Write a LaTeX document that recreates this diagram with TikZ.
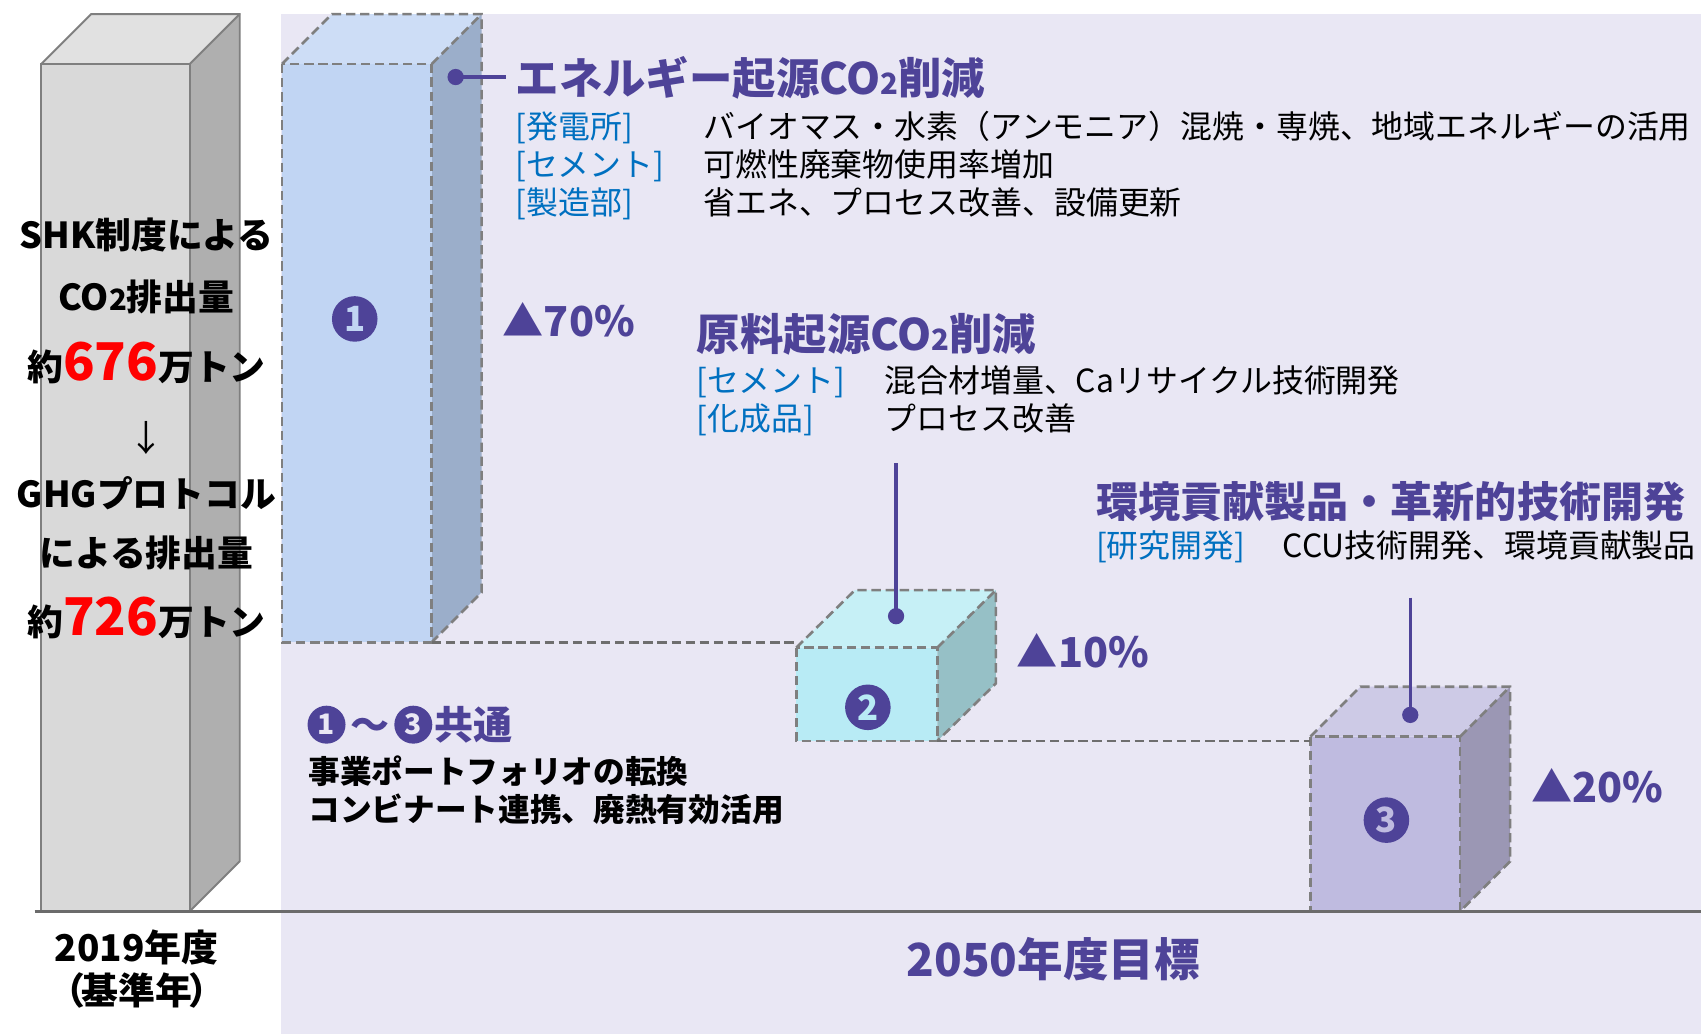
\documentclass[tikz,border=0pt]{standalone}
\usepackage{fontspec}
\setmainfont{Noto Sans CJK JP}
\definecolor{panel}{HTML}{E9E7F4}
\definecolor{pur}{HTML}{4E4398}
\definecolor{lblue}{HTML}{0070C0}
\definecolor{dashgray}{HTML}{7F7F7F}
\definecolor{stepgray}{HTML}{6E6E6E}
\definecolor{axisgray}{HTML}{6B6B6B}
\definecolor{gedge}{HTML}{7F7F7F}
\definecolor{gf}{HTML}{D9D9D9}
\definecolor{gt}{HTML}{E1E1E1}
\definecolor{gs}{HTML}{AFAFAF}
\definecolor{b1f}{HTML}{C1D5F3}
\definecolor{b1t}{HTML}{CDDDF6}
\definecolor{b1s}{HTML}{9BAECA}
\definecolor{b2f}{HTML}{B8EBF5}
\definecolor{b2t}{HTML}{C6F0F6}
\definecolor{b2s}{HTML}{96C0C6}
\definecolor{b3f}{HTML}{BFBBE0}
\definecolor{b3t}{HTML}{CDCAE6}
\definecolor{b3s}{HTML}{9B97B4}
\newcommand\mycube[8]{%
  \fill[#7t] (#1,#2) -- (#1+#5,#2-#6) -- (#3+#5,#2-#6) -- (#3,#2) -- cycle;
  \fill[#7s] (#3,#2) -- (#3+#5,#2-#6) -- (#3+#5,#4-#6) -- (#3,#4) -- cycle;
  \fill[#7f] (#1,#2) rectangle (#3,#4);
  \draw[#8] (#1,#2) rectangle (#3,#4);
  \draw[#8] (#1,#2) -- (#1+#5,#2-#6) -- (#3+#5,#2-#6) -- (#3+#5,#4-#6) -- (#3,#4);
  \draw[#8] (#3,#2) -- (#3+#5,#2-#6);
}
\begin{document}
\begin{tikzpicture}[x=0.5pt,y=-0.5pt,
  ttl/.style={inner sep=0pt,anchor=west,text=pur,font=\bfseries\fontsize{20}{20}\selectfont,text height=17.6pt,text depth=2.4pt},
  lbl/.style={inner sep=0pt,anchor=west,text=lblue,font=\fontsize{14.7}{14.7}\selectfont,text height=12.9pt,text depth=1.8pt},
  val/.style={lbl,text=black},
  lft/.style={inner sep=0pt,anchor=center,font=\bfseries\fontsize{16.5}{16.5}\selectfont,text height=14.5pt,text depth=2pt},
  big/.style={text=red,font=\bfseries\fontsize{24}{24}\selectfont},
  bot/.style={inner sep=0pt,anchor=center,font=\bfseries\fontsize{17}{17}\selectfont,text height=15pt,text depth=2pt},
  goal/.style={inner sep=0pt,anchor=center,text=pur,font=\bfseries\fontsize{21}{21}\selectfont,text height=18.5pt,text depth=2.5pt},
  pct/.style={inner sep=0pt,anchor=west,text=pur,font=\bfseries\fontsize{19}{19}\selectfont,text height=16.7pt,text depth=2.3pt},
  ctl/.style={inner sep=0pt,anchor=west,text=pur,font=\bfseries\fontsize{18}{18}\selectfont,text height=15.8pt,text depth=2.2pt},
  cline/.style={inner sep=0pt,anchor=west,font=\bfseries\fontsize{14.6}{14.6}\selectfont,text height=12.8pt,text depth=1.8pt},
  numc/.style={circle,fill=pur,inner sep=0pt,minimum size=21pt,font=\bfseries\fontsize{16}{16}\selectfont},
  smallnum/.style={numc,minimum size=17.5pt,font=\bfseries\fontsize{13}{13}\selectfont,text=panel},
  dot/.style={circle,fill=pur,inner sep=0pt,minimum size=7.5pt},
  lead/.style={draw=pur,line width=1.5pt},
  dedge/.style={draw=dashgray,line width=1.2pt,dash pattern=on 4.3pt off 2.2pt},
  stepline/.style={draw=stepgray,line width=1.2pt,dash pattern=on 4.3pt off 2.2pt},
  sedge/.style={draw=gedge,line width=0.9pt},
]
\useasboundingbox (0,0) rectangle (1568,953);
\fill[white] (0,0) rectangle (1568,953);
\fill[panel] (259,13) rectangle (1568,953);

% cuboids
\mycube{38}{59}{175}{840}{46}{46}{g}{sedge}
\mycube{260}{59}{398}{592}{46}{46}{b1}{dedge}
\mycube{734}{597}{864}{683}{54}{53}{b2}{dedge}
\mycube{1208}{679}{1346}{840}{46}{46}{b3}{dedge}

% dashed step connectors
\coordinate (b1corner) at (398,592);
\coordinate (b2corner) at (734,592);
\draw[stepline] (b1corner) -- (b2corner);
\coordinate (b2br) at (864,683);
\coordinate (b3l) at (1208,683);
\draw[stepline] (b2br) -- (b3l);

% axis
\coordinate (ax0) at (32,840);
\coordinate (ax1) at (1568,840);
\draw[draw=axisgray,line width=1.2pt] (ax0) -- (ax1);

% numbers in boxes
\node[numc,text=b1f] (n1) at (327,294) {1};
\node[numc,text=b2f] (n2) at (800,652) {2};
\node[numc,text=b3f] (n3) at (1278,756) {3};

% leaders
\node[dot] (d1) at (420,71) {};
\coordinate (e1) at (466,71);
\draw[lead] (d1.center) -- (e1);
\node[dot] (d2) at (826,568) {};
\coordinate (e2) at (826,427);
\draw[lead] (e2) -- (d2.center);
\node[dot] (d3) at (1300,659) {};
\coordinate (e3) at (1300,551);
\draw[lead] (e3) -- (d3.center);

% titles
\node[ttl] (t1) at (475,72) {エネルギー起源CO{\fontsize{13.5}{13.5}\selectfont 2}削減};
\node[ttl] (t2) at (642,308) {原料起源CO{\fontsize{13.5}{13.5}\selectfont 2}削減};
\node[ttl,font=\bfseries\fontsize{19.4}{19.4}\selectfont] (t3) at (1010,462) {環境貢献製品・革新的技術開発};

% rows
\node[lbl] (l11) at (475,117) {[発電所]};
\node[val] (v11) at (648,117) {バイオマス・水素（アンモニア）混焼・専焼、地域エネルギーの活用};
\node[lbl] (l12) at (475,152) {[セメント]};
\node[val] (v12) at (648,152) {可燃性廃棄物使用率増加};
\node[lbl] (l13) at (475,187) {[製造部]};
\node[val] (v13) at (648,187) {省エネ、プロセス改善、設備更新};
\node[lbl] (l21) at (642,351) {[セメント]};
\node[val] (v21) at (815,351) {混合材増量、Caリサイクル技術開発};
\node[lbl] (l22) at (642,386) {[化成品]};
\node[val] (v22) at (815,386) {プロセス改善};
\node[lbl] (l31) at (1010,503) {[研究開発]};
\node[val] (v31) at (1182,503) {CCU技術開発、環境貢献製品};

% percentages
\node[pct] (p1) at (463,296) {▲70\%};
\node[pct] (p2) at (937,601) {▲10\%};
\node[pct] (p3) at (1411,725) {▲20\%};

% left text
\node[lft] (s1) at (135,217) {SHK制度による};
\node[lft] (s2) at (135,274) {CO{\fontsize{13.5}{13.5}\selectfont 2}排出量};
\node[lft] (s3) at (135,338) {約{\color{red}\fontsize{24}{24}\selectfont 676}万トン};
\node[lft,font=\fontsize{16.5}{16.5}\selectfont] (s4) at (135,404) {↓};
\node[lft] (s5) at (135,455) {GHGプロトコル};
\node[lft] (s6) at (135,510) {による排出量};
\node[lft] (s7) at (135,573) {約{\color{red}\fontsize{24}{24}\selectfont 726}万トン};

% bottom labels
\node[bot] (y1) at (126,873) {2019年度};
\node[bot] (y2) at (126,913) {（\kern-0.1em基準年\kern-0.1em）};
\node[goal] (y3) at (971,884) {2050年度目標};

% common block
\node[smallnum] (k1) at (301,668) {1};
\node[ctl,anchor=center] (kt) at (341,668) {～};
\node[smallnum] (k3) at (381,668) {3};
\node[ctl] (kc) at (400,668) {共通};
\node[cline] (k4) at (284,711) {事業ポートフォリオの転換};
\node[cline] (k5) at (284,746) {コンビナート連携、廃熱有効活用};
\end{tikzpicture}
\end{document}
